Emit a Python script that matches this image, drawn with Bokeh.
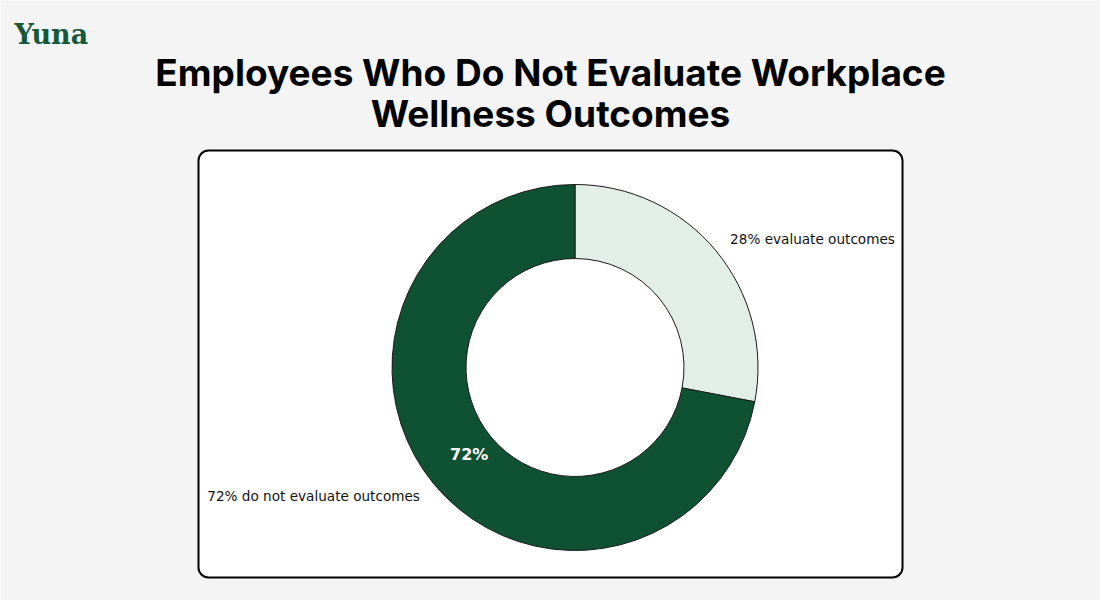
import math
from bokeh.plotting import figure
from bokeh.models import Range1d, ColumnDataSource
from bokeh.embed import file_html
from bokeh.resources import INLINE
from bokeh.core.properties import value

# ---- data ----
labels = ["evaluate outcomes", "do not evaluate outcomes"]
shares = [28, 72]
show_inner = [False, True]
colors = ["#e4eee8", "#0f5233"]
title_lines = ["Employees Who Do Not Evaluate Workplace", "Wellness Outcomes"]
brand = "Yuna"

# ---- layout ----
W, H = 1100, 600
def px(x):
    return x
def py(y):
    return H - y

p = figure(width=W, height=H, output_backend="svg", toolbar_location=None,
           x_range=Range1d(0, W), y_range=Range1d(0, H),
           x_axis_location=None, y_axis_location=None, min_border=0)
p.grid.visible = False
p.outline_line_color = None
p.background_fill_color = "#f4f4f4"
p.border_fill_color = "#f4f4f4"

# card
p.quad(left=[px(198)], right=[px(902)], top=[py(150)], bottom=[py(577)],
       fill_color="white", line_color="#000000", line_width=2, border_radius=10)

# donut
cx, cy = px(574.5), py(367)
R, r = 183, 109
total = sum(shares)
starts, ends, mids = [], [], []
acc = 0
for s in shares:
    a0 = math.radians(90 - acc / total * 360)
    acc += s
    a1 = math.radians(90 - acc / total * 360)
    starts.append(a0); ends.append(a1); mids.append((a0 + a1) / 2)

src = ColumnDataSource(dict(start=starts, end=ends, color=colors))
p.annular_wedge(x=cx, y=cy, inner_radius=r, outer_radius=R,
                start_angle="start", end_angle="end", direction="clock",
                fill_color="color", line_color="#1a1a1a", line_width=1, source=src)

# outer labels
for s, lab, m in zip(shares, labels, mids):
    lx = cx + 1.1 * R * math.cos(m)
    ly = cy + 1.1 * R * math.sin(m)
    p.text(x=[lx], y=[ly], text=[f"{s}% {lab}"],
           text_align="left" if math.cos(m) > 0 else "right",
           text_baseline="middle", text_font=value("DejaVu Sans"),
           text_font_size="13.6px", text_color="#111111")

# inner labels
for s, m, show in zip(shares, mids, show_inner):
    if show:
        p.text(x=[cx + 0.75 * R * math.cos(m)], y=[cy + 0.75 * R * math.sin(m)],
               text=[f"{s}%"], text_align="center", text_baseline="middle",
               text_font=value("DejaVu Sans"), text_font_style="bold",
               text_font_size="16px", text_color="white")

# title
for i, t in enumerate(title_lines):
    p.text(x=[px(550)], y=[py(72 + 41 * i)], text=[t], text_align="center",
           text_baseline="middle", text_font=value("Inter"), text_font_style="bold",
           text_font_size="37px", text_color="#000000")

# brand
p.text(x=[px(14)], y=[py(34)], text=[brand], text_align="left", text_baseline="middle",
       text_font=value("DejaVu Serif"), text_font_style="bold",
       text_font_size="27px", text_color="#17573a")

open("out.html", "w").write(file_html(p, INLINE))
